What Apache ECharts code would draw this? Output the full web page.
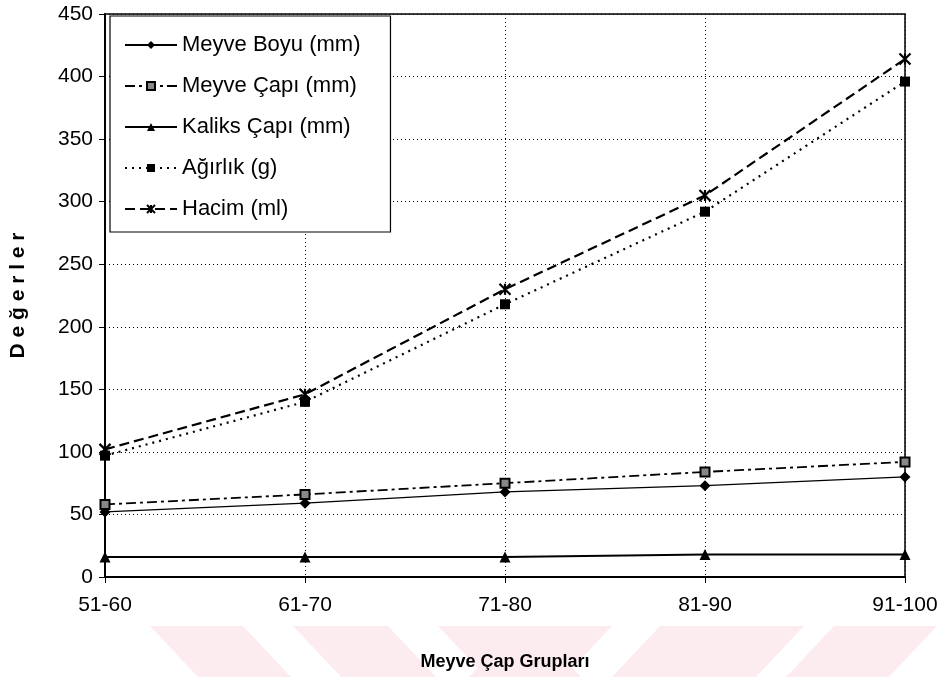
<!DOCTYPE html>
<html><head><meta charset="utf-8">
<script src="https://cdn.jsdelivr.net/npm/echarts@6/dist/echarts.min.js"></script>
<style>html,body{margin:0;padding:0;background:#fff}#c{width:947px;height:677px}</style>
</head><body><div id="c"></div>
<script>
const categories = ['51-60','61-70','71-80','81-90','91-100'];
const meyveBoyu = [52, 59, 68, 73, 80];
const meyveCapi = [58, 66, 75, 84, 92];
const kaliksCapi = [16, 16, 16, 18, 18];
const agirlik = [97, 140, 218, 292, 396];
const hacim = [102, 146, 230, 305, 414];
const seriesNames = ['Meyve Boyu (mm)','Meyve Çapı (mm)','Kaliks Çapı (mm)','Ağırlık (g)','Hacim (ml)'];

const xSym = 'path://M0,0 L10,10 M10,0 L0,10 M5,0 L5,10';
const chart = echarts.init(document.getElementById('c'));
const font = 'Arial, "Liberation Sans", sans-serif';
function s(name, data, sym, size, ltype, lw, symColor, symBorder) {
  return {
    name, type: 'line', data, symbol: sym, symbolSize: size,
    lineStyle: {color: '#000', width: lw, type: ltype},
    itemStyle: {color: symColor, borderColor: '#000', borderWidth: symBorder},
    animation: false
  };
}
// faint decorative watermark stripes at the bottom of the page
const wm = [];
const wmColor = '#fdecef';
[[150, 243], [293, 388], [438, 533]].forEach(([a, b]) => {
  wm.push({type: 'polygon', z: -10, silent: true,
    shape: {points: [[a, 626], [b, 626], [b + 48, 677], [a + 48, 677]]}, style: {fill: wmColor}});
});
[[517, 612], [660, 804], [834, 937]].forEach(([a, b]) => {
  wm.push({type: 'polygon', z: -10, silent: true,
    shape: {points: [[a, 626], [b, 626], [b - 48, 677], [a - 48, 677]]}, style: {fill: wmColor}});
});
chart.setOption({
  animation: false,
  textStyle: {fontFamily: font},
  graphic: wm,
  grid: {left: 103, right: 42, top: 14, bottom: 100, show: true, borderColor: '#000', borderWidth: 1.5},
  legend: {
    orient: 'vertical', left: 110, top: 16,
    backgroundColor: '#fff', borderColor: '#000', borderWidth: 1.2, borderRadius: 0,
    padding: [18, 30, 12, 14], itemGap: 19, itemWidth: 52, itemHeight: 10,
    textStyle: {fontSize: 22, color: '#000', fontFamily: font},
    data: seriesNames
  },
  xAxis: {
    type: 'category', data: categories, boundaryGap: false,
    name: 'Meyve Çap Grupları', nameLocation: 'middle', nameGap: 76,
    nameTextStyle: {fontSize: 18, fontWeight: 'bold', color: '#000'},
    axisLine: {lineStyle: {color: '#000', width: 2}},
    axisTick: {show: true, inside: false, length: 6, lineStyle: {color: '#000'}},
    axisLabel: {fontSize: 21, color: '#000', margin: 18},
    splitLine: {show: true, lineStyle: {color: '#000', type: [1, 3], width: 1}}
  },
  yAxis: {
    type: 'value', min: 0, max: 450, interval: 50,
    name: 'D e ğ e r l e r', nameLocation: 'middle', nameGap: 76, nameRotate: 90,
    nameTextStyle: {fontSize: 21, fontWeight: 'bold', color: '#000'},
    axisLine: {show: true, lineStyle: {color: '#000', width: 2}},
    axisTick: {show: true, inside: false, length: 6, lineStyle: {color: '#000'}},
    axisLabel: {fontSize: 21, color: '#000', margin: 12},
    splitLine: {show: true, lineStyle: {color: '#000', type: [1, 3], width: 1}}
  },
  series: [
    s(seriesNames[0], meyveBoyu, 'diamond', 11, 'solid', 1.3, '#000', 0),
    s(seriesNames[1], meyveCapi, 'rect', 9, [10, 4, 3, 4], 1.8, '#888', 2),
    s(seriesNames[2], kaliksCapi, 'triangle', 11, 'solid', 2, '#000', 0),
    s(seriesNames[3], agirlik, 'rect', 10, [2, 5], 2.2, '#000', 0),
    s(seriesNames[4], hacim, xSym, 11, [10, 5], 2.2, 'none', 2.2)
  ]
});
</script></body></html>
